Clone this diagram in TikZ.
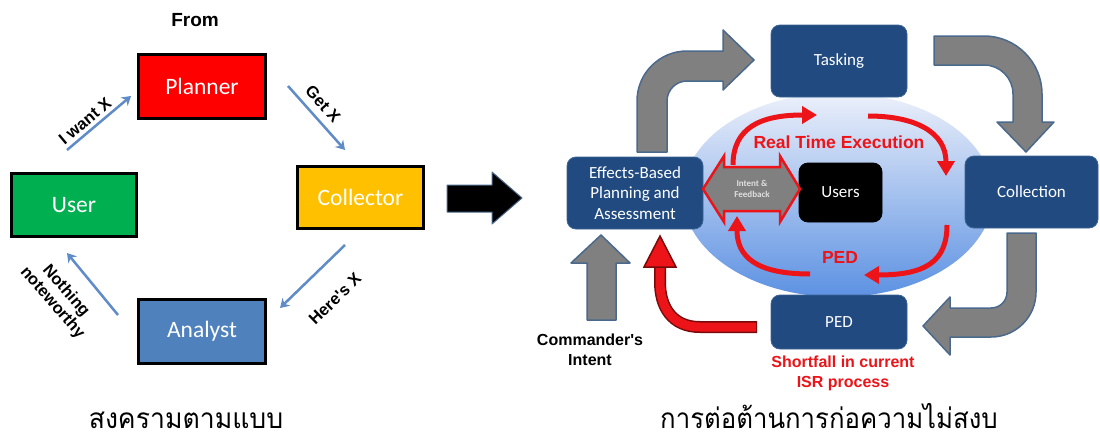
\documentclass[tikz,border=0pt]{standalone}
\usepackage{fontspec}
\setmainfont{Carlito}
\newfontfamily\arial{Liberation Sans}
\newfontfamily\thaifont[Script=Thai]{Loma}
\usetikzlibrary{arrows.meta}

\definecolor{boxblue}{RGB}{32,74,128}
\definecolor{boxedge}{RGB}{60,100,150}
\definecolor{planred}{RGB}{255,0,0}
\definecolor{usergreen}{RGB}{0,176,80}
\definecolor{colyellow}{RGB}{255,192,0}
\definecolor{anblue}{RGB}{79,129,189}
\definecolor{linkblue}{RGB}{95,140,200}
\definecolor{arrowgray}{RGB}{128,128,128}
\definecolor{grayedge}{RGB}{75,105,140}
\definecolor{rtred}{RGB}{236,20,24}
\definecolor{darkred}{RGB}{120,10,10}
\definecolor{lightbg}{RGB}{236,240,250}
\definecolor{deepbg}{RGB}{92,145,226}

\begin{document}
\begin{tikzpicture}[x=1pt,y=-1pt,
  lbox/.style={draw=black, line width=2.6pt, inner sep=0pt, text=white,
    font=\fontsize{23.5}{28}\selectfont},
  rbox/.style={fill=boxblue, draw=boxedge, line width=0.8pt, rounded corners=9pt,
    text=white, align=center, inner sep=0pt, font=\fontsize{17}{20.5}\selectfont},
  lbl/.style={font=\arial\bfseries\fontsize{16.5}{18}\selectfont, inner sep=0pt, align=center},
  redlbl/.style={font=\arial\bfseries\fontsize{17.5}{20}\selectfont, text=rtred, inner sep=0pt, align=center},
  linkarr/.style={draw=linkblue, line width=2.5pt, -{Stealth[length=9pt,width=11pt,inset=3pt]}},
  redarr/.style={draw=rtred, line width=5pt, -{Triangle[length=15pt,width=17pt]}},
  grayarr/.style={fill=arrowgray, draw=grayedge, line width=1.5pt, line join=round},
  thai/.style={font=\thaifont\fontsize{28}{28}\selectfont, anchor=base, inner sep=0pt}
]
\fill[white] (0,0) rectangle (1100,439);
\useasboundingbox (0,0) rectangle (1100,439);

% ---------------- left diagram ----------------
\node[lbl, font=\arial\bfseries\fontsize{19}{22}\selectfont] (from) at (195,20) {From};
\node[lbox, fill=planred, minimum width=127pt, minimum height=64pt] (planner) at (202,86.5) {Planner};
\node[lbox, fill=usergreen, minimum width=125pt, minimum height=63pt] (user) at (74,205) {User};
\node[lbox, fill=colyellow, minimum width=126pt, minimum height=62pt] (collector) at (360.5,197.5) {Collector};
\node[lbox, fill=anblue, minimum width=127pt, minimum height=64pt] (analyst) at (202,331.5) {Analyst};

\coordinate (iw1) at (67,150);  \coordinate (iw2) at (131,96);
\coordinate (gx1) at (288,86);  \coordinate (gx2) at (345,150);
\coordinate (hx1) at (345,245); \coordinate (hx2) at (280,308);
\coordinate (nn1) at (118,315); \coordinate (nn2) at (67,253);
\draw[linkarr] (iw1) -- (iw2);
\draw[linkarr] (gx1) -- (gx2);
\draw[linkarr] (hx1) -- (hx2);
\draw[linkarr] (nn1) -- (nn2);
\node[lbl, rotate=40] (lwant) at (85,121) {I want X};
\node[lbl, rotate=-48] (lget) at (323,104) {Get X};
\node[lbl, rotate=44] (lhere) at (335,299) {Here's X};
\node[lbl, rotate=-49] (lnoth) at (59,297) {Nothing\\noteworthy};

% middle black arrow
\draw[fill=black, draw=grayedge, line width=1pt, line join=round]
  (447,185) -- (492,185) -- (492,172) -- (522,198) -- (492,224) -- (492,212) -- (447,212) -- cycle;

% ---------------- right diagram ----------------
\shade[top color=lightbg, bottom color=deepbg] (838,195) ellipse (155 and 102);

\node[rbox, minimum width=136pt, minimum height=72pt] (tasking) at (839,61) {Tasking};
\node[rbox, minimum width=133pt, minimum height=72pt] (collection) at (1031.5,192) {Collection};
\node[rbox, minimum width=136pt, minimum height=54pt] (ped) at (839,322) {PED};
\node[rbox, minimum width=136pt, minimum height=72pt] (eb) at (635,193) {Effects-Based\\Planning and\\Assessment};
\node[rbox, fill=black, draw=black, minimum width=83pt, minimum height=59pt] (users) at (840.5,192.5) {Users};

% gray block arrows
\path[grayarr] (637,152) -- (637,101) .. controls (637,73.4) and (659.4,51) .. (687,51)
  -- (723,51) -- (723,30) -- (754,60) -- (723,90) -- (723,81) -- (687,81)
  .. controls (676,81) and (667,90) .. (667,101) -- (667,152) -- cycle;
\path[grayarr] (934,36) -- (984,36) .. controls (1016,36) and (1042,62) .. (1042,94)
  -- (1042,122) -- (1054,122) -- (1026,152) -- (997,122) -- (1013,122) -- (1013,94)
  .. controls (1013,78) and (1000,65) .. (984,65) -- (934,65) -- cycle;
\path[grayarr] (1007,233) -- (1036,233) -- (1036,292) .. controls (1036,317) and (1016,337) .. (991,337)
  -- (950,337) -- (950,355) -- (923,326) -- (950,297) -- (950,308) -- (991,308)
  .. controls (1000,308) and (1007,301) .. (1007,292) -- cycle;
\path[grayarr] (587,320) -- (587,263) -- (571,263) -- (601,235) -- (630,263) -- (616,263) -- (616,320) -- cycle;

% intent & feedback double arrow
\path[fill=arrowgray, draw=rtred, line width=2.5pt, line join=miter]
  (703,189) -- (724,156) -- (724,167) -- (780,167) -- (780,156) -- (800,189)
  -- (780,222) -- (780,211) -- (724,211) -- (724,222) -- cycle;
\node[font=\bfseries\fontsize{9}{11}\selectfont, text=white!88!black, align=center, inner sep=0pt]
  (ifb) at (752,189) {Intent \&\\Feedback};

% red arrows in the circle
\coordinate (r1a) at (733,165); \coordinate (r1b) at (817,115);
\coordinate (r2a) at (868,116); \coordinate (r2b) at (946,176);
\coordinate (r3a) at (947,225); \coordinate (r3b) at (864,275);
\coordinate (r4a) at (810,274); \coordinate (r4b) at (737,216);
\draw[redarr] (r1a) .. controls (733,128) and (760,115) .. (r1b);
\draw[redarr] (r2a) .. controls (915,116) and (946,132) .. (r2b);
\draw[redarr] (r3a) .. controls (947,262) and (925,275) .. (r3b);
\draw[redarr] (r4a) .. controls (755,274) and (737,256) .. (r4b);

\node[redlbl] (rte) at (839,142) {Real Time Execution};
\node[redlbl] (pedlbl) at (840,257) {PED};

% shortfall arrow from PED to planning box
\coordinate (sfa) at (757,327); \coordinate (sfb) at (660,266); \coordinate (sftip) at (660,236);
\draw[darkred, line width=12pt] (sfa) -- (700,327) .. controls (672,327) and (660,307) .. (660,282) -- (sfb);
\draw[rtred, line width=9pt] (756,327) -- (700,327) .. controls (672,327) and (660,307) .. (660,282) -- (660,264);
\path[fill=rtred, draw=darkred, line width=1.5pt, line join=miter] (644,267) -- (sftip) -- (676,267) -- cycle;

\node[redlbl, font=\arial\bfseries\fontsize{16}{20}\selectfont] (short) at (843,373) {Shortfall in current\\ISR process};
\node[lbl, font=\arial\bfseries\fontsize{16}{20}\selectfont] (cmd) at (590,350) {Commander's\\Intent};

% Thai captions
\node[thai, xscale=0.95] (t1) at (186,428) {สงครามตามแบบ};
\node[thai, xscale=0.92] (t2) at (829,428) {การต่อต้านการก่อความไม่สงบ};
\end{tikzpicture}
\end{document}
